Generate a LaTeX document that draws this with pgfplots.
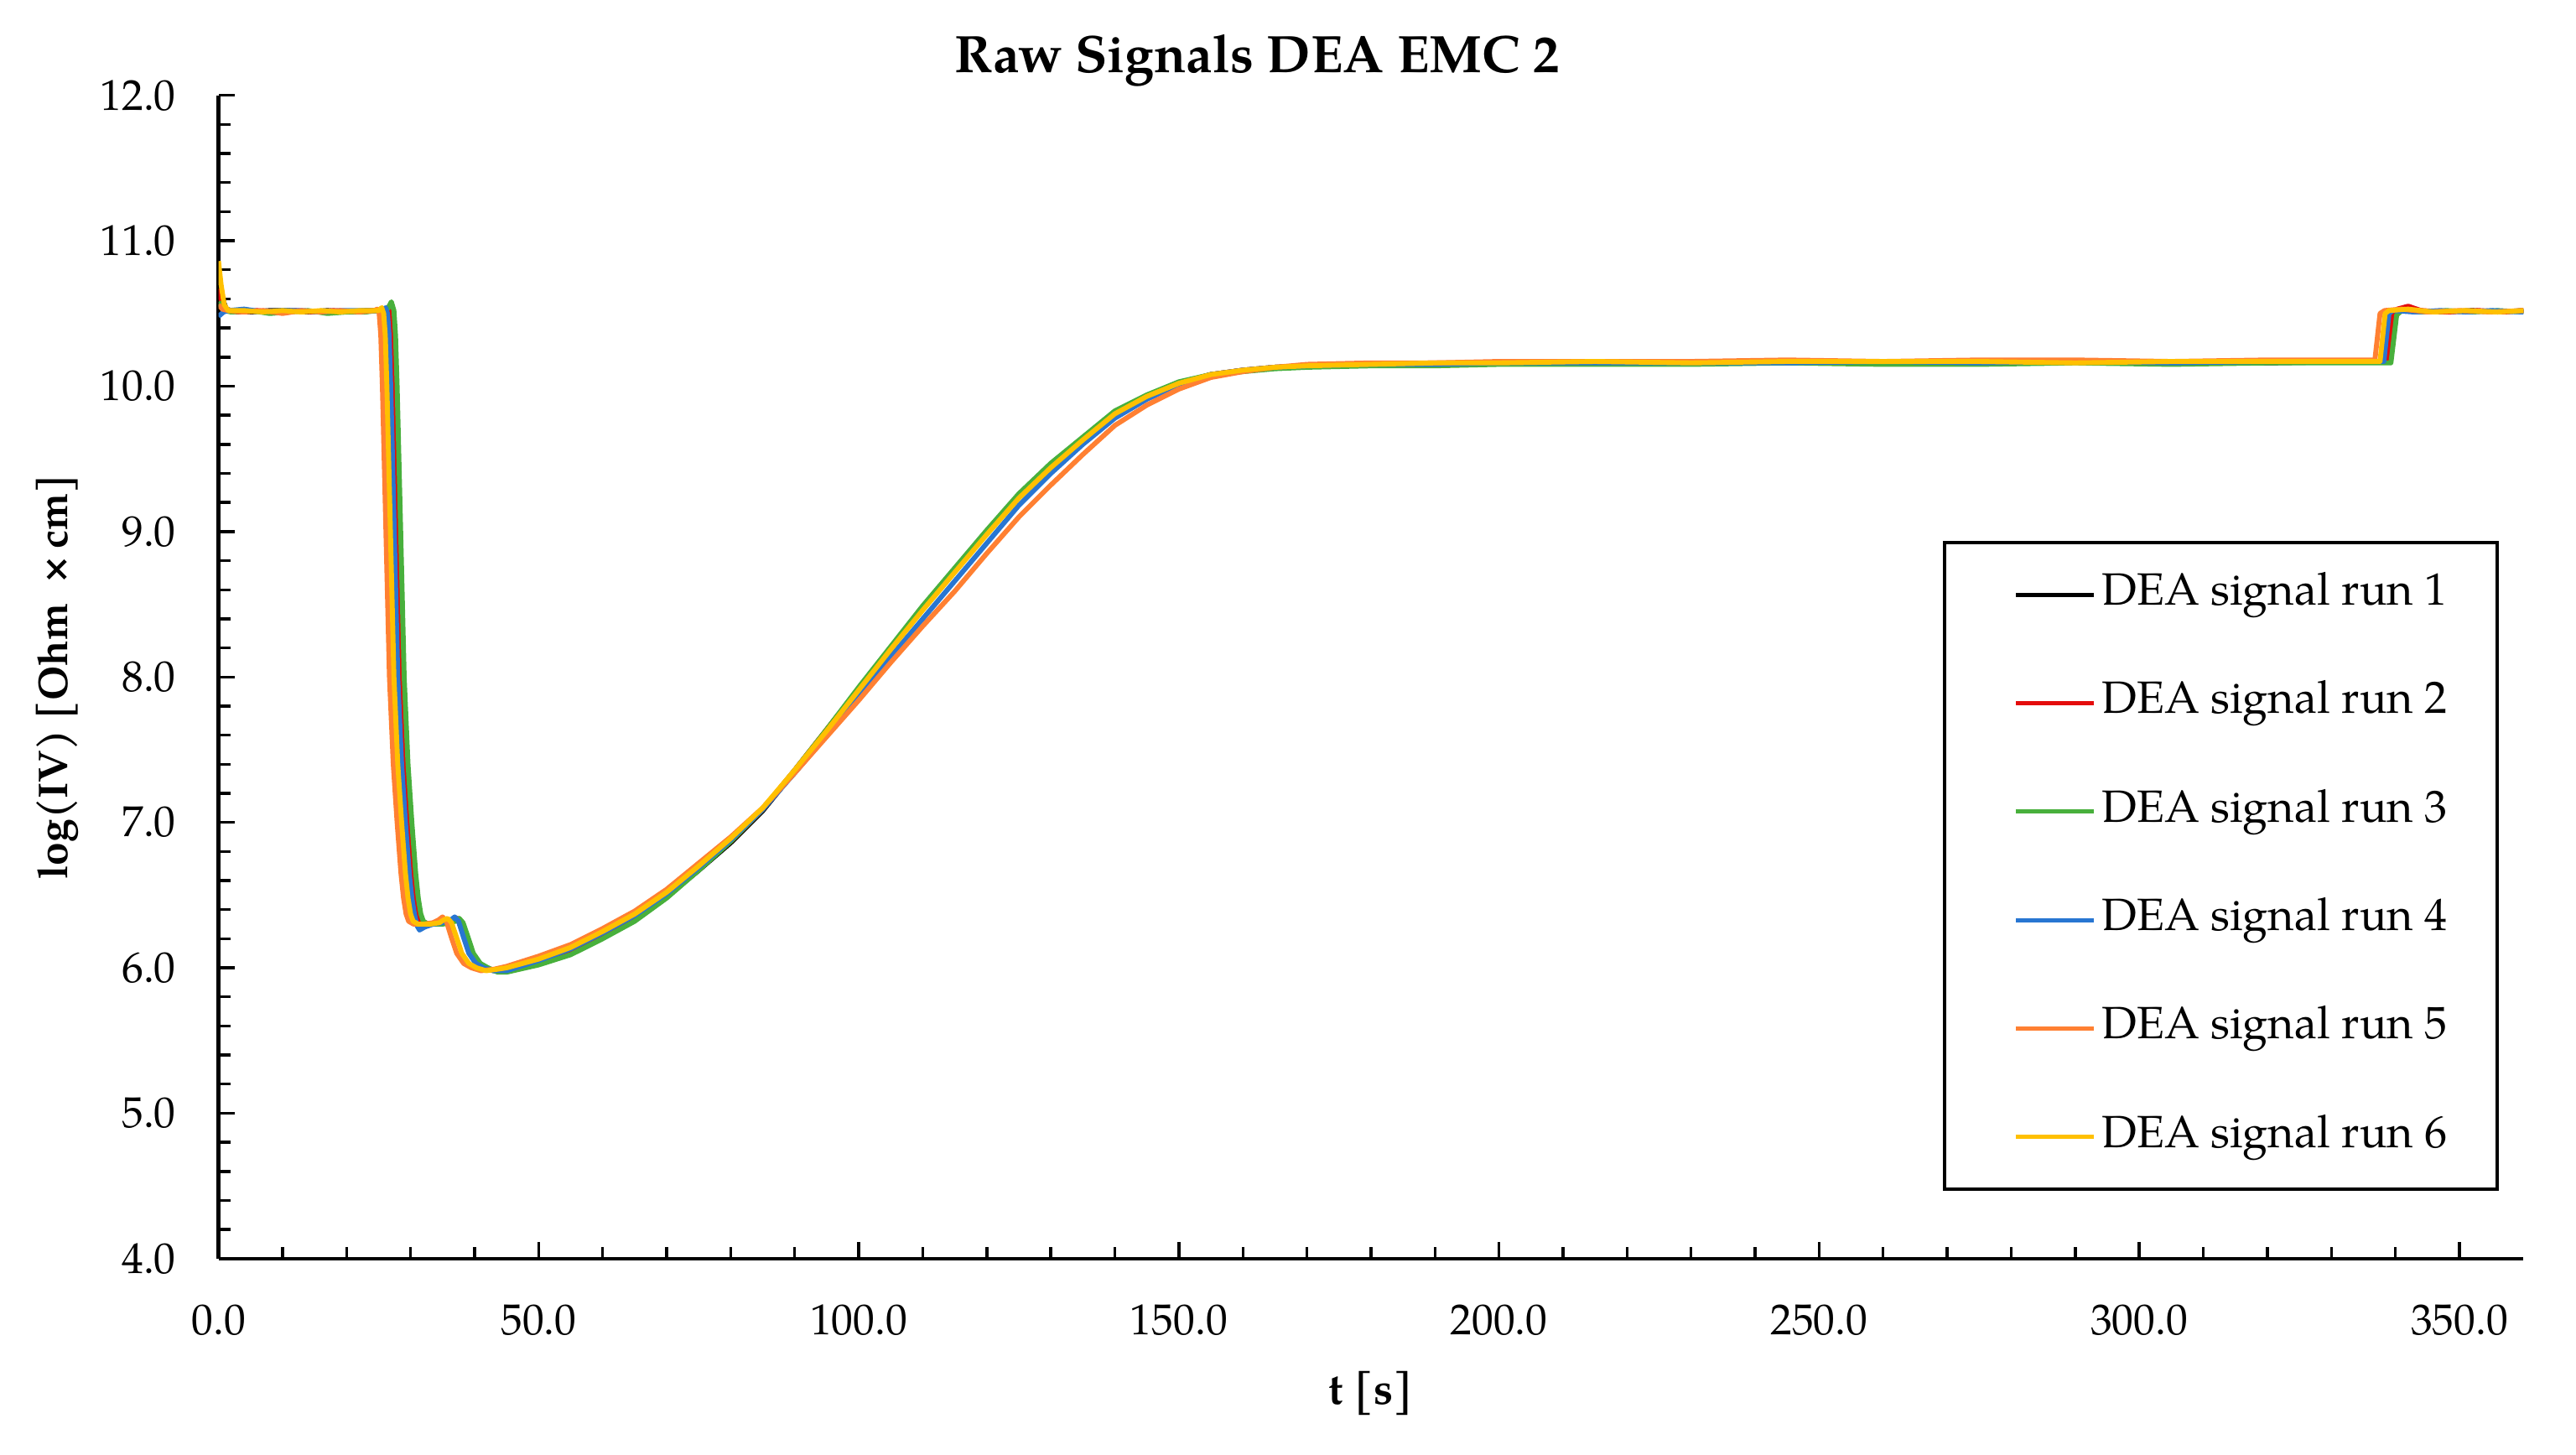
\documentclass[border=0pt]{standalone}
\usepackage{fontspec}
\setmainfont{TeX Gyre Pagella}
\usepackage{pgfplots}
\pgfplotsset{compat=1.18}
\definecolor{runred}{RGB}{228,12,12}
\definecolor{rungreen}{RGB}{72,176,60}
\definecolor{runblue}{RGB}{40,118,210}
\definecolor{runorange}{RGB}{255,128,50}
\definecolor{runyellow}{RGB}{255,192,0}
\begin{document}
\begin{tikzpicture}
\useasboundingbox (-1.866,-1.670) rectangle (20.134,10.748);
\begin{axis}[
  scale only axis, width=19.685cm, height=9.934cm,
  xmin=0, xmax=360, ymin=4, ymax=12,
  axis x line=bottom, axis y line=left,
  axis line style={-, line width=0.9pt, black},
  xtick={0,50,...,350}, ytick={4,5,...,12},
  minor x tick num=4, minor y tick num=4,
  tick align=inside,
  major tick length=0.14cm, minor tick length=0.1cm,
  every tick/.style={black, line width=0.7pt},
  scaled ticks=false,
  /pgf/number format/fixed, /pgf/number format/fixed zerofill,
  /pgf/number format/precision=1, /pgf/number format/assume math mode=true,
  tick label style={font=\fontsize{10.5}{12}\selectfont},
  xticklabel shift=0.27cm, yticklabel shift=0.24cm,
  xlabel={\textbf{t [s]}},
  xlabel style={at={(axis description cs:0.5,-0.116)}, anchor=center, font=\fontsize{10.6}{13}\selectfont},
  ylabel={\textbf{log(IV) [Ohm\ \ ×\,cm]}},
  ylabel style={at={(axis description cs:-0.0698,0.5)}, anchor=center, font=\fontsize{10.1}{12}\selectfont},
  title={\textbf{Raw Signals DEA EMC 2}},
  title style={at={(axis description cs:0.4505,1.0297)}, anchor=center, yshift=-6pt, font=\fontsize{12.8}{15}\selectfont},
  legend cell align=left,
  legend image code/.code={\path (0cm,0cm); \draw[#1, line width=1pt] (0.22cm,0cm) -- (0.88cm,0cm);},
  legend style={at={(axis description cs:0.9893,0.6172)}, anchor=north east,
    draw=black, line width=0.8pt, inner xsep=0.37cm, inner ysep=0.22cm,
    row sep=0.469cm, font=\fontsize{11}{13}\selectfont,
    nodes={inner sep=1.5pt, text height=7.5pt, text depth=2.5pt}},
  every axis plot/.append style={line width=1.2pt, line join=round},
]
% run 1 (black)
\addplot[black] coordinates {
(0,10.78) (0.5,10.62) (1.2,10.53) (2,10.52) (5,10.51) (8,10.52) (11,10.52) (14,10.51) (17,10.52) (20,10.51) (23,10.52)
(25.9,10.52) (26.4,10.54) (26.7,10.50) (26.95,10.35) (27.2,10.0) (27.7,9.1) (28.3,8.0) (28.9,7.4) (29.5,7.0) (30.1,6.65)
(30.5,6.48) (30.9,6.37) (31.3,6.32) (32.1,6.30) (34,6.30) (36,6.32) (37.0,6.34) (37.6,6.31) (38.3,6.22) (39.2,6.10)
(40.3,6.03) (41.5,6.00) (43,5.98) (45,5.98)
(50,6.04) (55,6.11) (60,6.22) (65,6.34) (70,6.49) (75,6.67) (80,6.86) (85,7.08) (90,7.35) (95,7.63) (100,7.92)
(105,8.20) (110,8.47) (115,8.73) (120,8.99) (125,9.24) (130,9.45) (135,9.63) (140,9.81) (145,9.93) (150,10.02)
(155,10.08) (160,10.11) (165,10.13) (170,10.14)
(180,10.15) (190,10.15) (200,10.16) (215,10.16) (230,10.16) (245,10.17) (260,10.16) (275,10.16) (290,10.17) (305,10.17) (320,10.16) (335,10.17)
(338.4,10.17) (339.2,10.50) (339.8,10.52) (343,10.52) (347,10.51) (352,10.52) (356,10.51) (360,10.52)
};
\addlegendentry{DEA signal run 1}
% run 2 (red)
\addplot[runred] coordinates {
(0,10.67) (0.5,10.58) (1.2,10.52) (3,10.51) (6,10.52) (9,10.51) (12,10.52) (15,10.51) (18,10.52) (21,10.51) (24,10.52)
(26.2,10.52) (26.7,10.55) (27.0,10.50) (27.25,10.35) (27.5,10.0) (28.0,9.1) (28.6,8.0) (29.2,7.4) (29.8,7.0) (30.4,6.65)
(30.8,6.48) (31.2,6.37) (31.6,6.32) (32.4,6.30) (34.5,6.30) (36.5,6.32) (37.3,6.34) (37.9,6.31) (38.6,6.22) (39.5,6.10)
(40.6,6.03) (41.8,6.00) (43.3,5.98) (45,5.98)
(50,6.04) (55,6.12) (60,6.23) (65,6.35) (70,6.50) (75,6.68) (80,6.87) (85,7.09) (90,7.36) (95,7.64) (100,7.92)
(105,8.20) (110,8.47) (115,8.73) (120,8.99) (125,9.24) (130,9.45) (135,9.63) (140,9.81) (145,9.93) (150,10.02)
(155,10.08) (160,10.11) (165,10.13) (170,10.14)
(180,10.15) (190,10.16) (200,10.16) (215,10.16) (230,10.17) (245,10.16) (260,10.16) (275,10.17) (290,10.17) (305,10.16) (320,10.17) (335,10.17)
(338.8,10.17) (339.6,10.50) (340.3,10.53) (342,10.55) (344,10.52) (348,10.51) (353,10.52) (357,10.51) (360,10.52)
};
\addlegendentry{DEA signal run 2}
% run 3 (green)
\addplot[rungreen] coordinates {
(0,10.58) (0.8,10.52) (2,10.51) (5,10.52) (8,10.50) (11,10.51) (14,10.52) (17,10.50) (20,10.51) (23,10.51)
(26.4,10.53) (27.0,10.58) (27.4,10.52) (27.65,10.35) (27.9,10.0) (28.4,9.1) (29.0,8.0) (29.6,7.4) (30.2,7.0) (30.8,6.65)
(31.2,6.48) (31.6,6.37) (32.0,6.32) (32.8,6.30) (35,6.30) (37.0,6.32) (37.6,6.34) (38.2,6.31) (38.9,6.22) (39.8,6.10)
(40.9,6.03) (42.1,6.00) (43.6,5.97) (45,5.97)
(50,6.02) (55,6.09) (60,6.20) (65,6.32) (70,6.48) (75,6.67) (80,6.87) (85,7.09) (90,7.36) (95,7.64) (100,7.93)
(105,8.21) (110,8.49) (115,8.75) (120,9.01) (125,9.26) (130,9.47) (135,9.65) (140,9.83) (145,9.94) (150,10.03)
(155,10.08) (160,10.10) (165,10.12) (170,10.13)
(180,10.14) (190,10.14) (200,10.15) (215,10.15) (230,10.15) (245,10.16) (260,10.15) (275,10.15) (290,10.16) (305,10.15) (320,10.16) (335,10.16)
(339.3,10.16) (340.2,10.49) (341,10.52) (344,10.51) (348,10.52) (352,10.51) (356,10.52) (360,10.51)
};
\addlegendentry{DEA signal run 3}
% run 4 (blue)
\addplot[runblue] coordinates {
(0,10.48) (0.8,10.51) (1.5,10.52) (4,10.53) (7,10.51) (10,10.52) (13,10.52) (16,10.51) (19,10.52) (22,10.52)
(25.6,10.52) (26.1,10.54) (26.4,10.50) (26.65,10.35) (26.9,10.0) (27.4,9.1) (28.0,8.0) (28.6,7.4) (29.2,7.0) (29.8,6.65)
(30.2,6.48) (30.6,6.37) (31.0,6.29) (31.4,6.26) (32.2,6.28) (33.5,6.30) (35,6.31) (36.3,6.33) (36.9,6.35) (37.5,6.32)
(38.2,6.22) (39.1,6.10) (40.2,6.03) (41.4,6.00) (42.9,5.98) (45,5.98)
(50,6.05) (55,6.13) (60,6.24) (65,6.36) (70,6.51) (75,6.69) (80,6.88) (85,7.09) (90,7.34) (95,7.60) (100,7.87)
(105,8.14) (110,8.40) (115,8.66) (120,8.92) (125,9.18) (130,9.40) (135,9.60) (140,9.78) (145,9.91) (150,10.01)
(155,10.08) (160,10.11) (165,10.13) (170,10.14)
(180,10.15) (190,10.15) (200,10.16) (215,10.16) (230,10.16) (245,10.16) (260,10.17) (275,10.16) (290,10.17) (305,10.16) (320,10.17) (335,10.17)
(338.2,10.17) (339.0,10.50) (339.6,10.52) (343,10.51) (347,10.52) (351,10.51) (355,10.52) (360,10.51)
};
\addlegendentry{DEA signal run 4}
% run 5 (orange)
\addplot[runorange] coordinates {
(0,10.56) (0.6,10.53) (1.5,10.52) (4,10.51) (7,10.52) (10,10.50) (13,10.52) (16,10.51) (19,10.52) (22,10.51)
(24.3,10.52) (24.8,10.53) (25.1,10.50) (25.35,10.35) (25.6,10.0) (26.1,9.1) (26.7,8.0) (27.3,7.4) (27.9,7.0) (28.5,6.65)
(28.9,6.48) (29.3,6.37) (29.7,6.32) (30.5,6.30) (32,6.30) (33.5,6.31) (34.4,6.33) (35.0,6.35) (35.6,6.32) (36.3,6.22)
(37.2,6.10) (38.3,6.03) (39.5,6.00) (41,5.98) (43,5.99) (45,6.01)
(50,6.08) (55,6.16) (60,6.27) (65,6.39) (70,6.54) (75,6.72) (80,6.90) (85,7.10) (90,7.34) (95,7.59) (100,7.84)
(105,8.10) (110,8.35) (115,8.59) (120,8.85) (125,9.10) (130,9.32) (135,9.53) (140,9.73) (145,9.87) (150,9.98)
(155,10.06) (160,10.10) (165,10.13) (170,10.15)
(180,10.16) (190,10.16) (200,10.17) (215,10.17) (230,10.17) (245,10.18) (260,10.17) (275,10.18) (290,10.18) (305,10.17) (320,10.18) (335,10.18)
(336.8,10.18) (337.6,10.50) (338.3,10.52) (341,10.53) (345,10.51) (350,10.52) (355,10.51) (360,10.52)
};
\addlegendentry{DEA signal run 5}
% run 6 (yellow)
\addplot[runyellow] coordinates {
(0,10.86) (0.4,10.70) (0.9,10.56) (1.5,10.52) (4,10.52) (7,10.51) (10,10.52) (13,10.51) (16,10.52) (19,10.51) (22,10.52)
(25.0,10.52) (25.5,10.54) (25.8,10.50) (26.05,10.35) (26.3,10.0) (26.8,9.1) (27.4,8.0) (28.0,7.4) (28.6,7.0) (29.2,6.65)
(29.6,6.48) (30.0,6.37) (30.4,6.32) (31.2,6.30) (33,6.30) (34.5,6.31) (35.2,6.33) (35.8,6.34) (36.4,6.31) (37.1,6.22)
(38.0,6.10) (39.1,6.03) (40.3,6.00) (41.8,5.98) (43.5,5.99) (45,6.00)
(50,6.06) (55,6.14) (60,6.25) (65,6.37) (70,6.52) (75,6.70) (80,6.89) (85,7.10) (90,7.36) (95,7.63) (100,7.91)
(105,8.19) (110,8.46) (115,8.72) (120,8.98) (125,9.23) (130,9.44) (135,9.63) (140,9.81) (145,9.93) (150,10.02)
(155,10.08) (160,10.11) (165,10.13) (170,10.14)
(180,10.15) (190,10.16) (200,10.16) (215,10.17) (230,10.16) (245,10.17) (260,10.17) (275,10.17) (290,10.16) (305,10.17) (320,10.17) (335,10.17)
(337.6,10.17) (338.4,10.50) (339,10.52) (342,10.53) (346,10.51) (351,10.52) (356,10.51) (360,10.52)
};
\addlegendentry{DEA signal run 6}
\end{axis}
\end{tikzpicture}
\end{document}
